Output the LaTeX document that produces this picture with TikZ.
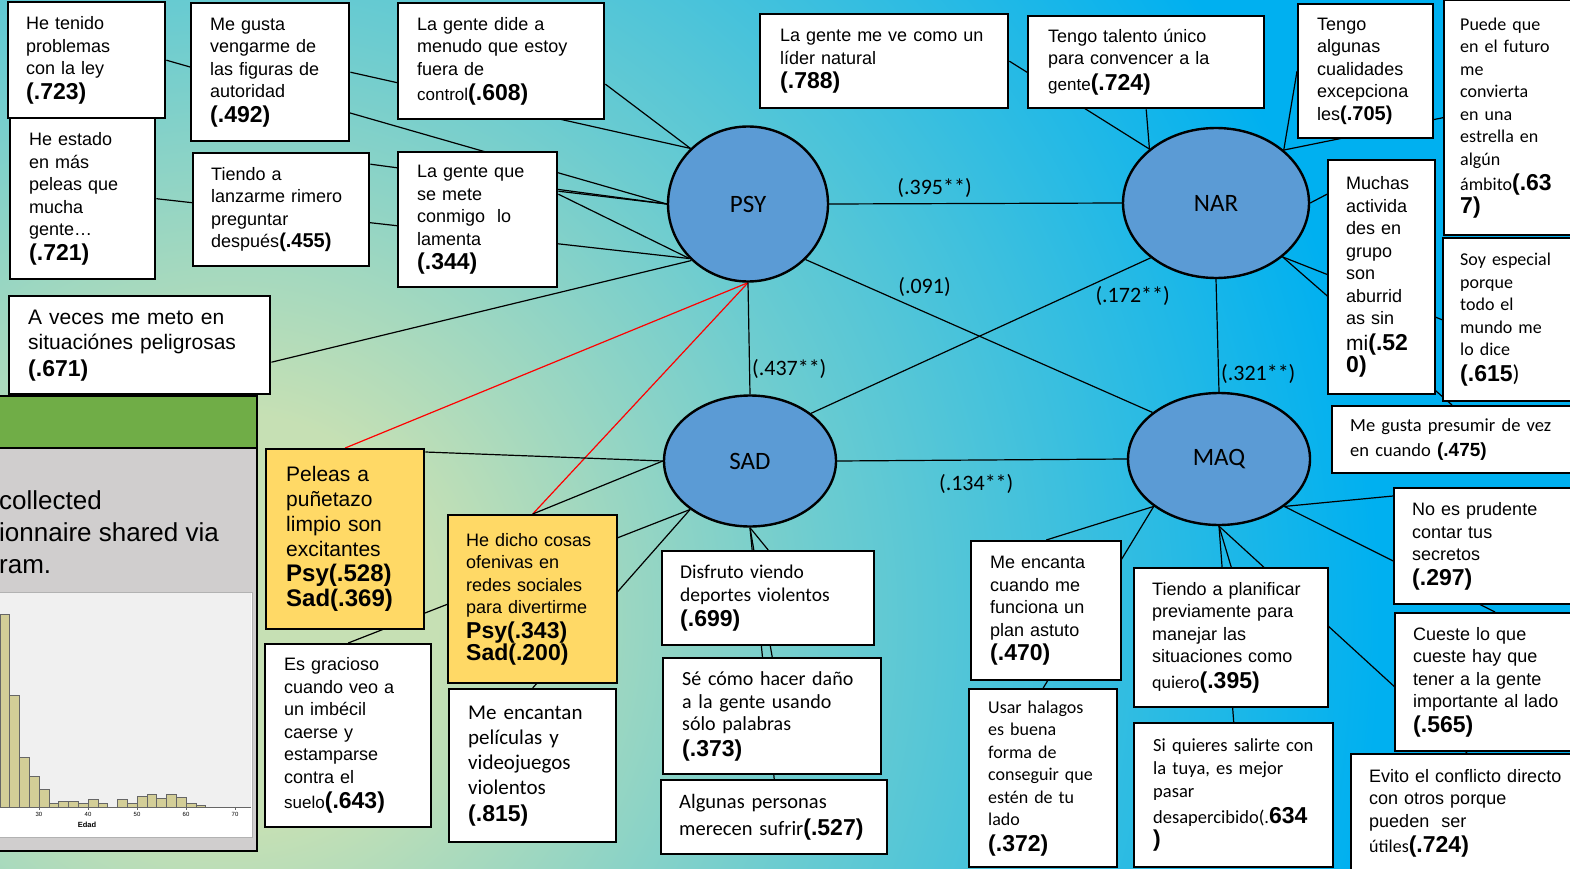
\documentclass[tikz,border=0pt]{standalone}
\usepackage{fontspec}
\setmainfont{Liberation Sans}
\newfontfamily\carl{Carlito}
\usetikzlibrary{shapes.geometric}
\usetikzlibrary{backgrounds}

\definecolor{bgGreen}{RGB}{198,224,180}
\definecolor{bgTeal}{RGB}{108,204,208}
\definecolor{bgBlue}{RGB}{0,176,240}
\definecolor{latBlue}{RGB}{91,155,213}
\definecolor{itemYellow}{RGB}{255,217,102}
\definecolor{headGreen}{RGB}{112,173,71}
\definecolor{panelGray}{RGB}{208,206,206}
\definecolor{barKhaki}{RGB}{211,206,151}

\pgfdeclareradialshading{bgshade}{\pgfpoint{0bp}{0bp}}{color(0bp)=(bgGreen); color(4.5bp)=(bgGreen); color(13bp)=(bgTeal); color(25bp)=(bgBlue); color(50bp)=(bgBlue)}

% bold loading in brackets
\newcommand{\val}[2][23]{{\rmfamily\fontsize{#1}{26}\selectfont\bfseries #2}}

\begin{document}
\begin{tikzpicture}[x=1pt,y=-1pt,
  item/.style={draw,fill=white,line width=2.4pt,anchor=north west,
    align=left,inner sep=0pt,font=\fontsize{18}{22.5}\selectfont},
  hot/.style={item,fill=itemYellow},
  latent/.style={ellipse,draw,fill=latBlue,line width=2.4pt,inner sep=0pt,
    font=\carl\fontsize{25}{30}\selectfont},
  corr/.style={font=\carl\fontsize{22}{26}\selectfont,inner sep=2pt},
  link/.style={line width=1.2pt},
  redlink/.style={draw=red,line width=1.2pt}]
  \useasboundingbox (0,0) rectangle (1570,869);

  % sample panel on the left
  \node[draw,fill=headGreen,line width=2.4pt,minimum width=268,minimum height=52,
    anchor=north east,inner sep=0pt] (head) at (258,395) {};
  \node[draw,fill=panelGray,line width=2.4pt,minimum width=268,minimum height=403,
    anchor=north east,inner sep=0pt] (panel) at (258,447) {};
  \node[anchor=north west,align=left,inner sep=0pt,
    font=\fontsize{26}{32}\selectfont] (note) at (-1,490)
    {collected\\ionnaire shared via\\ram.};
  \draw[gray!60,fill=white] (-5,592) rectangle (252,837);
  \fill[black!6] (-5,593) rectangle (251,807);
  \foreach \v/\t in {22/614,24/695,26/757,28/776,30/789,32/803,34/801,36/801,
      38/803,40/799,42/803,46/799,48/803,50/796,52/794,54/798,56/794,58/797,
      60/803,62/805}
    \draw[fill=barKhaki,draw=black!60,line width=0.6pt]
      ({39+(\v-30)*4.9},\t) rectangle ({39+(\v-28)*4.9},807);
  \draw[black!60] (-5,807) -- (251,807);
  \foreach \v in {30,40,...,70}{
    \draw[black!60] ({39+(\v-30)*4.9},807) -- ++(0,3);
    \node[font=\fontsize{6}{7}\selectfont,inner sep=0pt] (tick\v)
      at ({39+(\v-30)*4.9},814) {\v};
  }
  \node[font=\fontsize{7.5}{9}\selectfont\bfseries,inner sep=0pt] (edad) at (87,825) {Edad};

  % latent factors
  \node[latent,minimum width=160,minimum height=155] (psy) at (748,204) {PSY};
  \node[latent,minimum width=186,minimum height=150] (nar) at (1216,203) {NAR};
  \node[latent,minimum width=172,minimum height=131] (sad) at (750,461) {SAD};
  \node[latent,minimum width=182,minimum height=132] (maq) at (1219,459) {MAQ};

  % PSY items
  \node[item,minimum width=145,minimum height=161,text width=107] (b2) at (9,117)
    {He estado\\en más\\peleas que\\mucha\\gente…\\[2pt]\val{(.721)}};
  \node[item,minimum width=157,minimum height=116,text width=121] (b1) at (7,1)
    {He tenido\\problemas\\con la ley\\[2pt]\val{(.723)}};
  \node[item,minimum width=158,minimum height=138,text width=120] (b3) at (190,2)
    {Me gusta\\vengarme de\\las figuras de\\autoridad\\[2pt]\val{(.492)}};
  \node[item,minimum width=176,minimum height=113,text width=140] (b4) at (192,152)
    {Tiendo a\\lanzarme rimero\\preguntar\\después\val[20]{(.455)}};
  \node[item,minimum width=206,minimum height=116,text width=168] (b5) at (397,2)
    {La gente dide a\\menudo que estoy\\fuera de\\[3pt]{\fontsize{17}{22}\selectfont control}\val{(.608)}};
  \node[item,minimum width=159,minimum height=135,text width=121] (b6) at (397,151)
    {La gente que\\se mete\\conmigo~ lo\\lamenta\\[2pt]\val{(.344)}};
  \node[item,minimum width=261,minimum height=98,text width=223,
    font=\fontsize{21}{25}\selectfont] (b7) at (8,295)
    {A veces me meto en\\situaciónes peligrosas\\[2pt]\val{(.671)}};

  % SAD items
  \node[hot,minimum width=158,minimum height=180,text width=118,
    font=\fontsize{21}{25}\selectfont] (p1) at (265,448)
    {Peleas a\\puñetazo\\limpio son\\excitantes\\\val[24]{Psy(.528)}\\\val[24]{Sad(.369)}};
  \node[hot,minimum width=169,minimum height=168,text width=133] (p2) at (447,514)
    {He dicho cosas\\ofenivas en\\redes sociales\\para divertirme\\[2pt]\val{Psy(.343)}\\\val{Sad(.200)}};
  \node[item,minimum width=166,minimum height=183,text width=128] (s3) at (264,643)
    {Es gracioso\\cuando veo a\\un imbécil\\caerse y\\estamparse\\contra el\\[3pt]{\fontsize{17}{22}\selectfont suelo}\val{(.643)}};
  \node[item,minimum width=167,minimum height=153,text width=129,
    font=\carl\fontsize{21}{25}\selectfont] (s4) at (448,688)
    {Me encantan\\películas y\\videojuegos\\violentos\\[2pt]\val{(.815)}};
  \node[item,minimum width=212,minimum height=94,text width=176,
    font=\carl\fontsize{19.5}{23}\selectfont] (s5) at (661,550)
    {Disfruto viendo\\deportes violentos\\[2pt]\val{(.699)}};
  \node[item,minimum width=218,minimum height=116,text width=180,
    font=\carl\fontsize{20}{22.5}\selectfont] (s6) at (662,657)
    {Sé cómo hacer daño\\a la gente usando\\sólo palabras\\[3pt]\val{(.373)}};
  \node[item,minimum width=226,minimum height=74,text width=190,
    font=\carl\fontsize{20.5}{27}\selectfont] (s7) at (660,779)
    {Algunas personas\\merecen sufrir\val{(.527)}};

  % NAR items
  \node[item,minimum width=248,minimum height=94,text width=208] (n1) at (759,13)
    {La gente me ve como un\\líder natural\\[2pt]\val{(.788)}};
  \node[item,minimum width=236,minimum height=92,text width=196] (n2) at (1027,15)
    {Tengo talento único\\para convencer a la\\[3pt]{\fontsize{17}{22}\selectfont gente}\val{(.724)}};
  \node[item,minimum width=135,minimum height=134,text width=97] (n3) at (1297,3)
    {Tengo\\algunas\\cualidades\\excepciona\\les\val[20]{(.705)}};
  \node[item,minimum width=147,minimum height=235,text width=115,
    font=\carl\fontsize{18}{22.5}\selectfont] (n4) at (1443,-1)
    {Puede que\\en el futuro\\me\\convierta\\en una\\estrella en\\algún\\[3pt]ámbito\val{(.63}\\\val{7)}};
  \node[item,minimum width=107,minimum height=234,text width=71] (n5) at (1327,159)
    {Muchas\\activida\\des en\\grupo\\son\\aburrid\\as sin\\[3pt]{\fontsize{21}{24}\selectfont mi}\val{(.52}\\\val{0)}};
  \node[item,minimum width=148,minimum height=163,text width=114,
    font=\carl\fontsize{18}{22.5}\selectfont] (n6) at (1442,237)
    {Soy especial\\porque\\todo el\\mundo me\\lo dice\\[3pt]\val{(.615}{\fontsize{23}{26}\selectfont)}};
  \node[item,minimum width=259,minimum height=67,text width=223,
    font=\carl\fontsize{18.5}{25}\selectfont] (n7) at (1331,405)
    {Me gusta presumir de vez\\en cuando \val[19]{(.475)}};

  % MAQ items
  \node[item,minimum width=197,minimum height=116,text width=161] (m1) at (1393,487)
    {No es prudente\\contar tus\\secretos\\[2pt]\val{(.297)}};
  \node[item,minimum width=196,minimum height=138,text width=160] (m2) at (1394,612)
    {Cueste lo que\\cueste hay que\\tener a la gente\\importante al lado\\[2pt]\val{(.565)}};
  \node[item,minimum width=240,minimum height=118,text width=204] (m3) at (1350,753)
    {Evito el conflicto directo\\con otros porque\\pueden~ ser\\[3pt]{\carl útiles}\val{(.724)}};
  \node[item,minimum width=150,minimum height=139,text width=112] (m4) at (970,540)
    {Me encanta\\cuando me\\funciona un\\plan astuto\\[2pt]\val{(.470)}};
  \node[item,minimum width=148,minimum height=178,text width=110,
    font=\carl\fontsize{18}{22.5}\selectfont] (m5) at (968,688)
    {Usar halagos\\es buena\\forma de\\conseguir que\\estén de tu\\lado\\[3pt]\val{(.372)}};
  \node[item,minimum width=194,minimum height=139,text width=158] (m6) at (1133,567)
    {Tiendo a planificar\\previamente para\\manejar las\\situaciones como\\[3pt]{\carl quiero}\val{(.395)}};
  \node[item,minimum width=199,minimum height=144,text width=161,
    font=\carl\fontsize{18.5}{23}\selectfont] (m7) at (1133,722)
    {Si quieres salirte con\\la tuya, es mejor\\pasar\\[3pt]desapercibido(.\val{634}\\\val{)}};

  \begin{scope}[on background layer]
    \fill[bgBlue] (0,0) rectangle (1570,869);
    \shade[shading=bgshade] (230,620) circle (1150);

    \path[link]
      (b1.east) edge (psy.180)
      (b2.east) edge (psy.223)
      (b3.east) edge (psy.136)
      ([yshift=45.5]b4.east) edge (psy.180)
      ([yshift=-23]b5.east) edge (psy.136)
      ([yshift=28.5]b6.east) edge (psy.180)
      ([yshift=25.5]b6.east) edge (psy.223)
      ([yshift=-17]b7.east) edge (psy.225);
    \path[redlink]
      (psy.south) edge[redlink] (p1.north)
      (psy.south) edge[redlink] (p2.north);
    \path[link]
      ([yshift=-4]p1.north east) edge (sad.180)
      (sad.180) edge (p2.north)
      (sad.219) edge (s3.north)
      (sad.219) edge (s4.north)
      (sad.south) edge (s5.north)
      (sad.south) edge (s6.north)
      (sad.south) edge (s7.north);
    \path[link]
      (n1.east) edge (nar.141)
      (n2.south) edge (nar.141)
      (n3.west) edge (nar.38)
      (n4.west) edge (nar.38)
      (nar.east) edge ([yshift=83]n5.west)
      (nar.321) edge (n6.west)
      (nar.321) edge ([xshift=121]n7.north west);
    \path[link]
      (maq.324) edge ([yshift=-9]m1.north west)
      (maq.324) edge ([xshift=101]m2.north west)
      (maq.south) edge ([xshift=117]m3.north west)
      (maq.216) edge (m4.north)
      (maq.216) edge (m5.north)
      (maq.south) edge (m6.north)
      (maq.south) edge (m7.north);
    % correlations between factors
    \path[link]
      (psy.east) edge node[corr,pos=0.36,above,yshift=3] {(.395**)} (nar.west)
      (psy.south) edge node[corr,pos=0.77,right] {(.437**)} (sad.north)
      (psy.316) edge node[corr,pos=0.26,anchor=south west] {(.091)} (maq.145)
      (sad.38) edge node[corr,pos=0.83,anchor=north west] {(.172**)} (nar.220)
      (nar.south) edge node[corr,pos=0.84,right] {(.321**)} (maq.north)
      (sad.east) edge node[corr,pos=0.48,below,yshift=-12] {(.134**)} (maq.west);
  \end{scope}
\end{tikzpicture}
\end{document}
